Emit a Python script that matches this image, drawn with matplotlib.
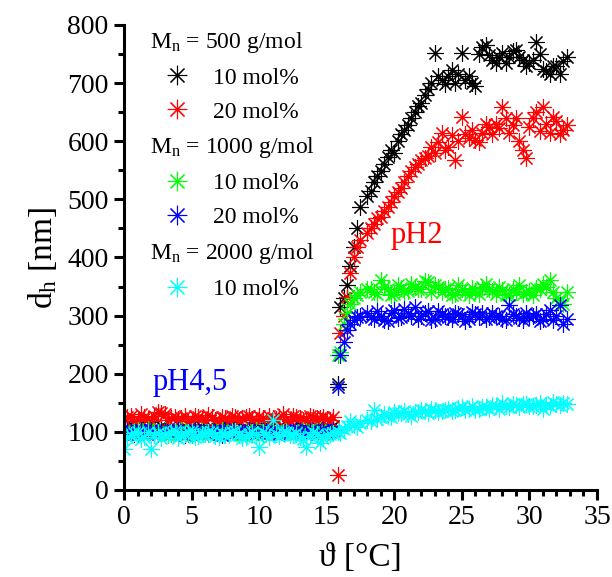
import matplotlib
matplotlib.use("Agg")
import matplotlib.pyplot as plt
from matplotlib.lines import Line2D
from matplotlib.ticker import MultipleLocator

plt.rcParams["font.family"] = ["Liberation Serif", "DejaVu Serif"]
plt.rcParams["mathtext.fontset"] = "custom"
plt.rcParams["mathtext.rm"] = "Liberation Serif"
plt.rcParams["mathtext.it"] = "Liberation Serif:italic"

# temperature grid [°C]
temps = [0, 0.5, 1, 1.5, 2, 2.5, 3, 3.5, 4, 4.5, 5, 5.5, 6, 6.5, 7, 7.5,
         8, 8.5, 9, 9.5, 10, 10.5, 11, 11.5, 12, 12.5, 13, 13.5, 14, 14.5, 15, 15.5,
         15.8, 16.0, 16.25, 16.5, 16.75, 17.0, 17.25, 17.5,
         18, 18.5, 19, 19.5, 20, 20.5, 21, 21.5, 22, 22.5, 23, 23.5, 24, 24.5,
         25, 25.5, 26, 26.5, 27, 27.5, 28, 28.5, 29, 29.5, 30, 30.5, 31, 31.5, 32, 32.5]
# in-between readings
temps_low_mid = [0.25, 0.75, 1.25, 1.75, 2.25, 2.75, 3.25, 3.75, 4.25, 4.75, 5.25,
                 5.75, 6.25, 6.75, 7.25, 7.75, 8.25, 8.75, 9.25, 9.75, 10.25, 10.75,
                 11.25, 11.75, 12.25, 12.75, 13.25, 13.75, 14.25, 14.75, 15.25]
temps_high_mid = [18.25, 18.75, 19.25, 19.75, 20.25, 20.75, 21.25, 21.75, 22.25, 22.75,
                  23.25, 23.75, 24.25, 24.75, 25.25, 25.75, 26.25, 26.75, 27.25, 27.75,
                  28.25, 28.75, 29.25, 29.75, 30.25, 30.75, 31.25, 31.75, 32.25, 32.75]

# hydrodynamic diameter [nm]
mn500_10 = [105, 100, 108, 102, 110, 104, 98, 106, 103, 109, 101, 107, 104, 99, 106, 102,
            108, 103, 105, 100, 107, 104, 102, 109, 101, 106, 103, 100, 107, 104, 102, 110,
            182, 315, 330, 352, 385, 418, 450, 487,
            505, 530, 548, 573, 580, 612, 628, 650, 665, 690, 752, 705, 712, 700,
            752, 712, 695, 762, 748, 735, 752, 745, 757, 740, 735, 770, 725, 715, 730, 738]
mn500_10_low_mid = [104, 108, 100, 106, 102, 110, 105, 99, 107, 103, 101, 108, 105, 100, 104,
                    109, 102, 106, 101, 107, 103, 105, 100, 108, 104, 102, 106, 101, 109, 103, 105]
mn500_10_high_mid = [515, 540, 560, 585, 600, 620, 640, 660, 680, 700, 712, 698, 722, 715, 705,
                     700, 750, 765, 740, 745, 735, 755, 745, 730, 740, 750, 720, 730, 715, 745]

mn500_20 = [122, 128, 120, 125, 118, 135, 130, 124, 122, 127, 119, 125, 121, 126, 118, 124,
            128, 120, 125, 122, 127, 119, 124, 126, 121, 128, 123, 120, 126, 124, 122, 125,
            25, 270, 300, 332, 373, 400, 418, 430,
            442, 458, 470, 487, 505, 520, 540, 555, 568, 575, 580, 614, 590, 568,
            642, 605, 602, 615, 625, 630, 659, 614, 640, 585, 625, 650, 659, 614, 635, 620]
mn500_20_low_mid = [125, 118, 130, 122, 128, 133, 120, 126, 124, 118, 127, 122, 129, 121, 125,
                    119, 126, 123, 128, 120, 124, 127, 122, 130, 119, 125, 121, 127, 123, 126, 120]
mn500_20_high_mid = [450, 468, 480, 495, 512, 530, 548, 560, 572, 590, 598, 585, 610, 600, 612,
                     620, 598, 630, 612, 622, 640, 628, 600, 572, 640, 618, 630, 642, 612, 628]

mn1000_10 = [100, 98, 103, 96, 101, 99, 104, 97, 100, 102, 95, 101, 99, 103, 97, 100,
             102, 98, 101, 96, 100, 103, 99, 97, 102, 100, 98, 101, 99, 103, 97, 100,
             232, 238, 285, 305, 320, 330, 335, 340,
             345, 340, 362, 345, 338, 348, 342, 350, 345, 358, 352, 340, 348, 338,
             345, 335, 342, 350, 345, 338, 344, 335, 340, 338, 342, 348, 355, 362, 330, 320]
mn1000_10_low_mid = [97, 102, 99, 105, 98, 101, 94, 100, 103, 97, 99, 102, 96, 100, 104,
                     98, 101, 95, 100, 103, 97, 99, 102, 98, 100, 96, 103, 99, 101, 97, 100]
mn1000_10_high_mid = [345, 338, 350, 335, 352, 340, 355, 345, 360, 340, 350, 346, 335, 352, 340,
                      348, 338, 355, 342, 350, 336, 346, 352, 340, 336, 345, 350, 340, 325, 340]

mn1000_20 = [98, 102, 96, 100, 104, 97, 101, 99, 103, 95, 100, 102, 98, 101, 97, 103,
             99, 100, 96, 102, 98, 101, 104, 97, 100, 99, 102, 96, 101, 100, 98, 103,
             178, 232, 255, 275, 285, 292, 298, 300,
             305, 295, 300, 290, 310, 298, 305, 315, 300, 308, 295, 302, 298, 305,
             300, 295, 302, 305, 298, 300, 295, 318, 300, 292, 298, 302, 295, 310, 300, 285]
mn1000_20_low_mid = [101, 97, 103, 99, 95, 102, 98, 104, 96, 100, 103, 97, 101, 99, 95,
                     102, 100, 98, 103, 96, 101, 99, 97, 102, 100, 104, 98, 101, 96, 103, 99]
mn1000_20_high_mid = [298, 308, 292, 305, 296, 312, 300, 295, 305, 292, 308, 300, 295, 303, 290,
                      306, 298, 295, 304, 300, 292, 302, 296, 305, 300, 290, 302, 292, 318, 295]

mn2000_10 = [70, 95, 100, 92, 70, 98, 94, 100, 90, 96, 102, 93, 97, 100, 91, 95,
             99, 94, 92, 100, 74, 96, 120, 93, 99, 95, 92, 74, 100, 80, 95, 98,
             100, 98, 105, 110, 118, 112, 108, 115,
             120, 138, 125, 128, 135, 132, 130, 135, 138, 132, 138, 136, 140, 138,
             142, 140, 138, 143, 140, 145, 150, 142, 146, 148, 144, 146, 140, 145, 148, 150]
mn2000_10_low_mid = [92, 98, 88, 100, 95, 90, 97, 102, 94, 99, 91, 96, 100, 93, 98,
                     95, 102, 90, 97, 94, 99, 92, 96, 100, 95, 98, 88, 93, 97, 90, 96]
mn2000_10_high_mid = [118, 122, 130, 126, 132, 136, 128, 134, 136, 140, 134, 138, 136, 141, 138,
                      144, 140, 142, 146, 140, 145, 148, 143, 148, 145, 150, 147, 152, 146, 148]

series = [
    (mn500_10, mn500_10_low_mid, mn500_10_high_mid, "black", "10 mol%"),
    (mn500_20, mn500_20_low_mid, mn500_20_high_mid, "#ff0000", "20 mol%"),
    (mn1000_10, mn1000_10_low_mid, mn1000_10_high_mid, "#00ff00", "10 mol%"),
    (mn1000_20, mn1000_20_low_mid, mn1000_20_high_mid, "#0000ff", "20 mol%"),
    (mn2000_10, mn2000_10_low_mid, mn2000_10_high_mid, "#00ffff", "10 mol%"),
]
headers = ["M$_\\mathrm{n}$ = 500 g/mol", "M$_\\mathrm{n}$ = 1000 g/mol",
           "M$_\\mathrm{n}$ = 2000 g/mol"]

STAR = (8, 2, 0)

fig = plt.figure(figsize=(6.12, 5.77), dpi=100)
ax = fig.add_axes([0.2026, 0.1508, 0.7729, 0.8059])

all_temps = temps + temps_low_mid + temps_high_mid
for main, low_mid, high_mid, color, _ in series:
    ax.plot(all_temps, main + low_mid + high_mid, ls="none", marker=STAR, ms=12,
            mew=0.8, color=color, mec=color)

ax.text(19.7, 425, "pH2", color="#ff0000", fontsize=22, va="baseline")
ax.text(2.1, 172, "pH4,5", color="#0000ff", fontsize=22, va="baseline")

ax.set_xlim(0, 35)
ax.set_ylim(0, 800)
ax.xaxis.set_major_locator(MultipleLocator(5))
ax.xaxis.set_minor_locator(MultipleLocator(1))
ax.yaxis.set_major_locator(MultipleLocator(100))
ax.yaxis.set_minor_locator(MultipleLocator(50))
for side in ["top", "right"]:
    ax.spines[side].set_visible(False)
for side in ["left", "bottom"]:
    ax.spines[side].set_linewidth(2.2)
ax.tick_params(which="major", direction="out", length=7, width=2.2,
               labelsize=20, pad=4)
ax.tick_params(which="minor", direction="out", length=4, width=2.2)

ax.set_xlabel("ϑ [°C]", fontsize=24, labelpad=9)
ax.set_ylabel("d$_\\mathrm{h}$ [nm]", fontsize=24, labelpad=6)

# legend: header rows without marker
blank = Line2D([], [], ls="none")
handles, labels, is_header = [], [], []
order = [headers[0], 0, 1, headers[1], 2, 3, headers[2], 4]
for item in order:
    if isinstance(item, str):
        handles.append(blank)
        labels.append(item)
        is_header.append(True)
    else:
        color, lab = series[item][3], series[item][4]
        handles.append(Line2D([], [], ls="none", marker=STAR, ms=14, mew=0.8,
                              color=color))
        labels.append(lab)
        is_header.append(False)

leg = ax.legend(handles, labels, loc="upper left", bbox_to_anchor=(0.087, 0.99),
                frameon=False, fontsize=17, handlelength=1.0, handletextpad=1.03,
                labelspacing=0.53, borderpad=0, borderaxespad=0)
for txt, head in zip(leg.get_texts(), is_header):
    if head:
        txt.set_x(-63)

fig.savefig("out.png", dpi=100)
